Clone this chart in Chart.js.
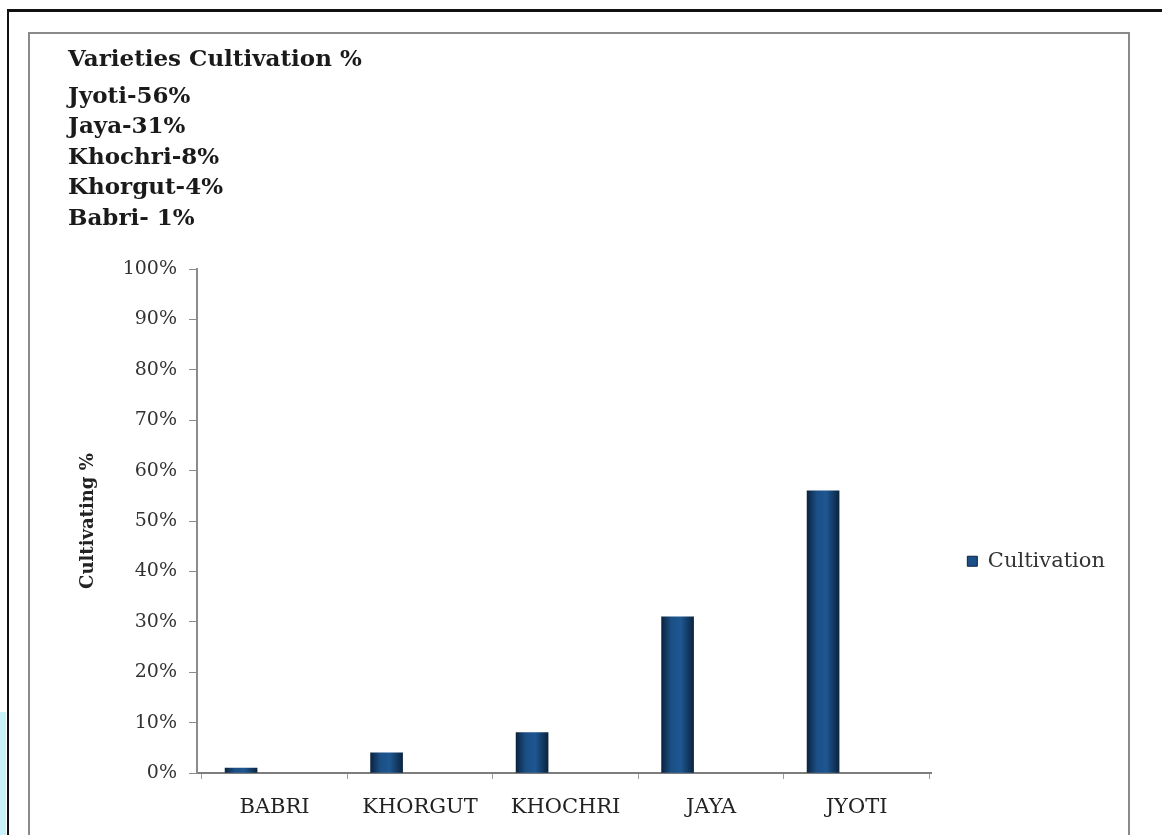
<!DOCTYPE html>
<html>
<head>
<meta charset="utf-8">
<script src="https://cdn.jsdelivr.net/npm/chart.js@4.4.1/dist/chart.umd.min.js"></script>
<style>
  html, body { margin: 0; padding: 0; background: #fff; }
  body { width: 1162px; height: 835px; position: relative; overflow: hidden; }
  /* scanned page: black frame, grey chart border, cyan scrap bottom-left */
  .frame { position: absolute; left: 7px; top: 9px; right: -10px; bottom: -10px; border-top: 3px solid #111; border-left: 2px solid #111; }
  .sheet { position: absolute; left: 28px; top: 32px; width: 1098px; height: 820px; border: 2px solid #8a8a8a; border-bottom: none; }
  .scrap { position: absolute; left: 0; top: 712px; width: 6px; height: 123px; background: #c9f1fa; }
  #wrap { position: absolute; left: 30px; top: 34px; width: 1097px; height: 801px; }
</style>
</head>
<body>
<div class="frame"></div>
<div class="scrap"></div>
<div class="sheet"></div>
<div id="wrap"><canvas id="chart"></canvas></div>
<script>
const categories = ['BABRI', 'KHORGUT', 'KHOCHRI', 'JAYA', 'JYOTI'];
const cultivation = [1, 4, 8, 31, 56];
const yTicks = [0, 10, 20, 30, 40, 50, 60, 70, 80, 90, 100];
const noteLines = ['Jyoti-56%', 'Jaya-31%', 'Khochri-8%', 'Khorgut-4%', 'Babri- 1%'];

// bars sit a bit left of their labels in the scan (3-D column offset)
const labelShift = 0.23;

Chart.defaults.font.family = "'DejaVu Serif', 'Liberation Serif', serif";

// cylinder-ish shading across each column
function barFill(c) {
  const sx = c.chart.scales.x;
  const cx = sx && c.raw ? sx.getPixelForValue(c.raw.x) : NaN;
  if (!Number.isFinite(cx)) return '#1b4f86';
  const g = c.chart.ctx.createLinearGradient(cx - 16, 0, cx + 16, 0);
  g.addColorStop(0, '#0b2440');
  g.addColorStop(0.3, '#1b4f86');
  g.addColorStop(0.6, '#1e5791');
  g.addColorStop(1, '#0b2440');
  return g;
}

new Chart(document.getElementById('chart'), {
  type: 'bar',
  data: {
    datasets: [{
      label: 'Cultivation',
      data: cultivation.map((v, i) => ({ x: i, y: v })),
      backgroundColor: barFill,
      borderWidth: 0,
      barThickness: 32
    }]
  },
  options: {
    responsive: true,
    maintainAspectRatio: false,
    animation: false,
    layout: { padding: { left: 38, right: 12, top: 0, bottom: 0 } },
    scales: {
      x: {
        type: 'linear',
        offset: false,
        min: -0.303,
        max: 4.744,
        afterBuildTicks: axis => { axis.ticks = categories.map((c, i) => ({ value: i + labelShift })); },
        afterFit: s => { s.height = 62; },
        grid: { drawOnChartArea: false, offset: true, drawTicks: true, tickLength: 6, color: '#9a9a9a' },
        border: { color: '#7d7d7d', width: 2 },
        ticks: { padding: 16, color: '#222', font: { size: 21 }, maxRotation: 0, autoSkip: false,
          callback: (v, i) => categories[i] }
      },
      y: {
        min: 0,
        max: 100,
        afterBuildTicks: axis => { axis.ticks = yTicks.map(v => ({ value: v })); },
        afterFit: s => { s.width = 129; },
        grid: { drawOnChartArea: false, tickLength: 8, color: '#8c8c8c' },
        border: { color: '#8c8c8c', width: 2 },
        ticks: { padding: 12, color: '#333', font: { size: 19 }, callback: v => v + '%' },
        title: { display: true, text: 'Cultivating %', color: '#222', padding: { top: 10, bottom: 0 },
          font: { size: 18, weight: 'bold' } }
      }
    },
    plugins: {
      title: {
        display: true, text: 'Varieties Cultivation %', align: 'start', color: '#1a1a1a',
        font: { size: 23, weight: 'bold' }, padding: { top: 12, bottom: 4 }
      },
      subtitle: {
        display: true, text: noteLines, align: 'start', color: '#1a1a1a',
        font: { size: 23, weight: 'bold', lineHeight: 1.326 }, padding: { top: 4, bottom: 35 }
      },
      legend: {
        position: 'right',
        fullSize: false,
        labels: {
          boxWidth: 10, boxHeight: 10, padding: 36, color: '#333', font: { size: 21 },
          generateLabels: chart => Chart.defaults.plugins.legend.labels.generateLabels(chart)
            .map(l => ({ ...l, fillStyle: '#1b4f86', strokeStyle: '#0b2440', lineWidth: 1 }))
        },
        title: { display: true, text: ' ', padding: { top: 66, bottom: 0 }, font: { size: 12 } }
      },
      tooltip: { enabled: false }
    }
  }
});
</script>
</body>
</html>
